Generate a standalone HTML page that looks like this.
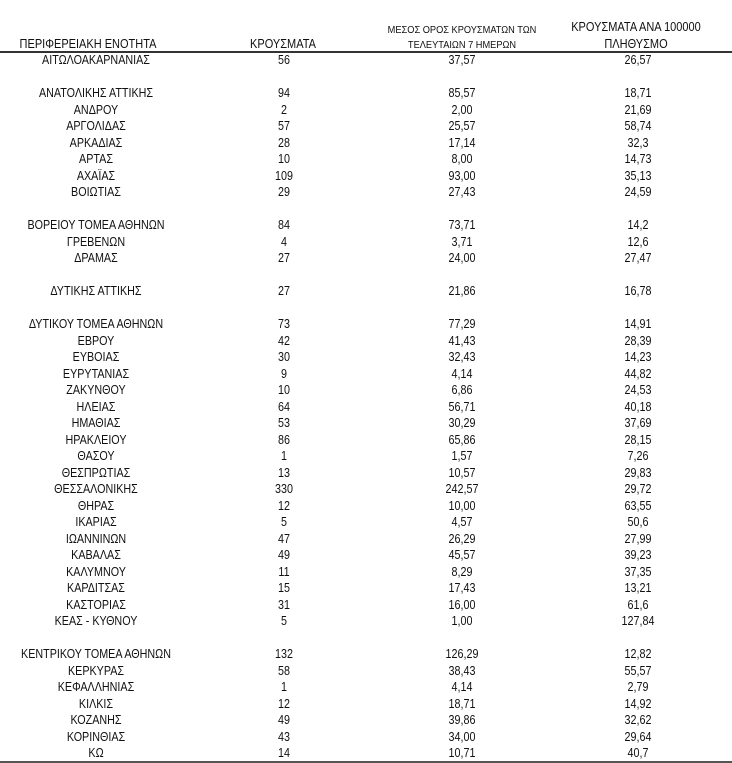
<!DOCTYPE html>
<html><head><meta charset="utf-8"><style>
html,body{margin:0;padding:0;background:#fff;}
body{width:732px;height:763px;position:relative;overflow:hidden;font-family:"Liberation Sans","DejaVu Sans",sans-serif;color:#111;font-size:12.5px;}
.r{position:absolute;left:0;width:732px;height:16px;line-height:16px;}
.r span{position:absolute;top:0;white-space:nowrap;transform:translateX(-50%) scaleX(0.86);}
.a{left:96px}.b{left:284px}.c{left:462px}.d{left:638px}
.h{position:absolute;white-space:nowrap;transform:translateX(-50%) scaleX(0.88);line-height:14px;}
.line{position:absolute;left:0;width:732px;background:#333;}
</style></head><body>
<div class="h" style="left:88px;top:37px;">ΠΕΡΙΦΕΡΕΙΑΚΗ ΕΝΟΤΗΤΑ</div>
<div class="h" style="left:283px;top:37px;">ΚΡΟΥΣΜΑΤΑ</div>
<div class="h" style="left:462px;top:23px;font-size:10.5px;">ΜΕΣΟΣ ΟΡΟΣ ΚΡΟΥΣΜΑΤΩΝ ΤΩΝ</div>
<div class="h" style="left:462px;top:38px;font-size:10.5px;">ΤΕΛΕΥΤΑΙΩΝ 7 ΗΜΕΡΩΝ</div>
<div class="h" style="left:636px;top:20px;font-size:12.5px;">ΚΡΟΥΣΜΑΤΑ ΑΝΑ 100000</div>
<div class="h" style="left:636px;top:37px;font-size:12.5px;">ΠΛΗΘΥΣΜΟ</div>
<div class="line" style="top:51px;height:2px;"></div>
<div class="line" style="top:761px;height:2px;background:#555;"></div>

<div class="r" style="top:52px"><span class="a">ΑΙΤΩΛΟΑΚΑΡΝΑΝΙΑΣ</span><span class="b">56</span><span class="c">37,57</span><span class="d">26,57</span></div>
<div class="r" style="top:85px"><span class="a">ΑΝΑΤΟΛΙΚΗΣ ΑΤΤΙΚΗΣ</span><span class="b">94</span><span class="c">85,57</span><span class="d">18,71</span></div>
<div class="r" style="top:101.5px"><span class="a">ΑΝΔΡΟΥ</span><span class="b">2</span><span class="c">2,00</span><span class="d">21,69</span></div>
<div class="r" style="top:118px"><span class="a">ΑΡΓΟΛΙΔΑΣ</span><span class="b">57</span><span class="c">25,57</span><span class="d">58,74</span></div>
<div class="r" style="top:134.5px"><span class="a">ΑΡΚΑΔΙΑΣ</span><span class="b">28</span><span class="c">17,14</span><span class="d">32,3</span></div>
<div class="r" style="top:151px"><span class="a">ΑΡΤΑΣ</span><span class="b">10</span><span class="c">8,00</span><span class="d">14,73</span></div>
<div class="r" style="top:167.5px"><span class="a">ΑΧΑΪΑΣ</span><span class="b">109</span><span class="c">93,00</span><span class="d">35,13</span></div>
<div class="r" style="top:184px"><span class="a">ΒΟΙΩΤΙΑΣ</span><span class="b">29</span><span class="c">27,43</span><span class="d">24,59</span></div>
<div class="r" style="top:217px"><span class="a">ΒΟΡΕΙΟΥ ΤΟΜΕΑ ΑΘΗΝΩΝ</span><span class="b">84</span><span class="c">73,71</span><span class="d">14,2</span></div>
<div class="r" style="top:233.5px"><span class="a">ΓΡΕΒΕΝΩΝ</span><span class="b">4</span><span class="c">3,71</span><span class="d">12,6</span></div>
<div class="r" style="top:250px"><span class="a">ΔΡΑΜΑΣ</span><span class="b">27</span><span class="c">24,00</span><span class="d">27,47</span></div>
<div class="r" style="top:283px"><span class="a">ΔΥΤΙΚΗΣ ΑΤΤΙΚΗΣ</span><span class="b">27</span><span class="c">21,86</span><span class="d">16,78</span></div>
<div class="r" style="top:316px"><span class="a">ΔΥΤΙΚΟΥ ΤΟΜΕΑ ΑΘΗΝΩΝ</span><span class="b">73</span><span class="c">77,29</span><span class="d">14,91</span></div>
<div class="r" style="top:332.5px"><span class="a">ΕΒΡΟΥ</span><span class="b">42</span><span class="c">41,43</span><span class="d">28,39</span></div>
<div class="r" style="top:349px"><span class="a">ΕΥΒΟΙΑΣ</span><span class="b">30</span><span class="c">32,43</span><span class="d">14,23</span></div>
<div class="r" style="top:365.5px"><span class="a">ΕΥΡΥΤΑΝΙΑΣ</span><span class="b">9</span><span class="c">4,14</span><span class="d">44,82</span></div>
<div class="r" style="top:382px"><span class="a">ΖΑΚΥΝΘΟΥ</span><span class="b">10</span><span class="c">6,86</span><span class="d">24,53</span></div>
<div class="r" style="top:398.5px"><span class="a">ΗΛΕΙΑΣ</span><span class="b">64</span><span class="c">56,71</span><span class="d">40,18</span></div>
<div class="r" style="top:415px"><span class="a">ΗΜΑΘΙΑΣ</span><span class="b">53</span><span class="c">30,29</span><span class="d">37,69</span></div>
<div class="r" style="top:431.5px"><span class="a">ΗΡΑΚΛΕΙΟΥ</span><span class="b">86</span><span class="c">65,86</span><span class="d">28,15</span></div>
<div class="r" style="top:448px"><span class="a">ΘΑΣΟΥ</span><span class="b">1</span><span class="c">1,57</span><span class="d">7,26</span></div>
<div class="r" style="top:464.5px"><span class="a">ΘΕΣΠΡΩΤΙΑΣ</span><span class="b">13</span><span class="c">10,57</span><span class="d">29,83</span></div>
<div class="r" style="top:481px"><span class="a">ΘΕΣΣΑΛΟΝΙΚΗΣ</span><span class="b">330</span><span class="c">242,57</span><span class="d">29,72</span></div>
<div class="r" style="top:497.5px"><span class="a">ΘΗΡΑΣ</span><span class="b">12</span><span class="c">10,00</span><span class="d">63,55</span></div>
<div class="r" style="top:514px"><span class="a">ΙΚΑΡΙΑΣ</span><span class="b">5</span><span class="c">4,57</span><span class="d">50,6</span></div>
<div class="r" style="top:530.5px"><span class="a">ΙΩΑΝΝΙΝΩΝ</span><span class="b">47</span><span class="c">26,29</span><span class="d">27,99</span></div>
<div class="r" style="top:547px"><span class="a">ΚΑΒΑΛΑΣ</span><span class="b">49</span><span class="c">45,57</span><span class="d">39,23</span></div>
<div class="r" style="top:563.5px"><span class="a">ΚΑΛΥΜΝΟΥ</span><span class="b">11</span><span class="c">8,29</span><span class="d">37,35</span></div>
<div class="r" style="top:580px"><span class="a">ΚΑΡΔΙΤΣΑΣ</span><span class="b">15</span><span class="c">17,43</span><span class="d">13,21</span></div>
<div class="r" style="top:596.5px"><span class="a">ΚΑΣΤΟΡΙΑΣ</span><span class="b">31</span><span class="c">16,00</span><span class="d">61,6</span></div>
<div class="r" style="top:613px"><span class="a">ΚΕΑΣ - ΚΥΘΝΟΥ</span><span class="b">5</span><span class="c">1,00</span><span class="d">127,84</span></div>
<div class="r" style="top:646px"><span class="a">ΚΕΝΤΡΙΚΟΥ ΤΟΜΕΑ ΑΘΗΝΩΝ</span><span class="b">132</span><span class="c">126,29</span><span class="d">12,82</span></div>
<div class="r" style="top:662.5px"><span class="a">ΚΕΡΚΥΡΑΣ</span><span class="b">58</span><span class="c">38,43</span><span class="d">55,57</span></div>
<div class="r" style="top:679px"><span class="a">ΚΕΦΑΛΛΗΝΙΑΣ</span><span class="b">1</span><span class="c">4,14</span><span class="d">2,79</span></div>
<div class="r" style="top:695.5px"><span class="a">ΚΙΛΚΙΣ</span><span class="b">12</span><span class="c">18,71</span><span class="d">14,92</span></div>
<div class="r" style="top:712px"><span class="a">ΚΟΖΑΝΗΣ</span><span class="b">49</span><span class="c">39,86</span><span class="d">32,62</span></div>
<div class="r" style="top:728.5px"><span class="a">ΚΟΡΙΝΘΙΑΣ</span><span class="b">43</span><span class="c">34,00</span><span class="d">29,64</span></div>
<div class="r" style="top:745px"><span class="a">ΚΩ</span><span class="b">14</span><span class="c">10,71</span><span class="d">40,7</span></div>
</body></html>
